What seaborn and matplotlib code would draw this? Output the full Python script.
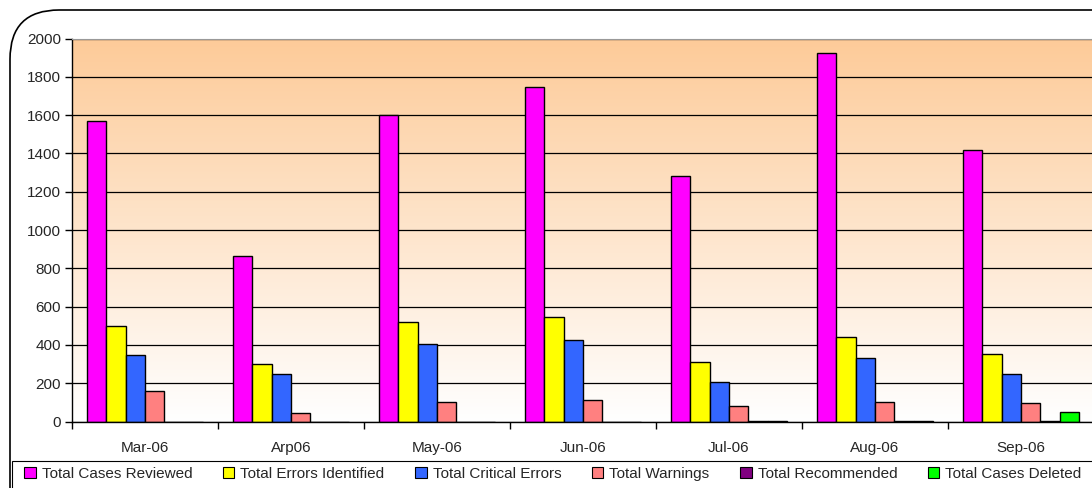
import numpy as np
import pandas as pd
import matplotlib
matplotlib.use("Agg")
import matplotlib.pyplot as plt
from matplotlib.patches import FancyBboxPatch, Rectangle
import seaborn as sns

# Dados
months = ['Mar-06', 'Arp06', 'May-06', 'Jun-06', 'Jul-06', 'Aug-06', 'Sep-06']
cases_reviewed = [1570, 865, 1600, 1745, 1282, 1925, 1420]
errors_identified = [497, 298, 517, 548, 310, 443, 352]
critical_errors = [345, 248, 407, 428, 208, 330, 248]
warnings = [157, 42, 103, 110, 80, 103, 97]
recommended = [0, 0, 0, 0, 4, 4, 5]
cases_deleted = [0, 0, 0, 0, 4, 4, 50]

series_names = ['Total Cases Reviewed', 'Total Errors Identified', 'Total Critical Errors',
                'Total Warnings', 'Total Recommended', 'Total Cases Deleted']
series_values = [cases_reviewed, errors_identified, critical_errors,
                 warnings, recommended, cases_deleted]
colors = ['#FF00FF', '#FFFF00', '#3366FF', '#FF8080', '#800080', '#00FF00']

rows = []
for name, vals in zip(series_names, series_values):
    for m, v in zip(months, vals):
        rows.append({'Month': m, 'Series': name, 'Value': v})
df = pd.DataFrame(rows)

sns.set_style('white')
plt.rcParams['font.family'] = ['Liberation Sans', 'DejaVu Sans']
FS = 11

W, H = 1092, 488
fig = plt.figure(figsize=(W / 100, H / 100), dpi=100)

# moldura arredondada externa
frame = FancyBboxPatch((10 / W, -0.2), 1.2, (H - 10) / H + 0.2,
                       boxstyle='round,pad=0,rounding_size=0.045',
                       transform=fig.transFigure, facecolor='none',
                       edgecolor='black', linewidth=1.2, clip_on=False,
                       mutation_aspect=W / H, zorder=-1)
fig.patches.append(frame)

ax = fig.add_axes([72 / W, 1 - 421.5 / H, 1022 / W, 383 / H])

sns.barplot(data=df, x='Month', y='Value', hue='Series', palette=colors,
            saturation=1, width=0.8, edgecolor='black', linewidth=1, ax=ax, zorder=2)

# fundo em degrade
grad = np.linspace(0, 1, 256).reshape(-1, 1)
top = np.array([253, 203, 153]) / 255
bottom = np.array([255, 255, 255]) / 255
img = bottom + (top - bottom) * grad
img = img[:, np.newaxis, :] * np.ones((1, 2, 1))
ax.imshow(img, extent=[-0.5, 6.5, 0, 2000], origin='lower', aspect='auto', zorder=0)

ax.set_xlim(-0.5, 6.5)
ax.set_ylim(0, 2000)
ax.set_yticks(range(0, 2001, 200))
ax.yaxis.grid(True, color='black', linewidth=0.9)
ax.set_axisbelow(True)
ax.set_xlabel('')
ax.set_ylabel('')

ax.set_xticks(range(len(months)))
ax.set_xticklabels(months)
ax.set_xticks(np.arange(-0.5, 7.0, 1.0), minor=True)
ax.tick_params(axis='x', which='major', length=0, pad=14, labelsize=FS)
ax.tick_params(axis='x', which='minor', length=5, width=1, color='black', direction='out')
ax.tick_params(axis='y', length=5, width=1, color='black', direction='out', labelsize=FS, pad=3)
ax.tick_params(axis='both', which='both', bottom=True, left=True)

for s in ['left', 'bottom']:
    ax.spines[s].set_color('black')
    ax.spines[s].set_linewidth(1)
ax.spines['top'].set_color('#999999')
ax.spines['right'].set_visible(False)

# legenda
handles, labels = ax.get_legend_handles_labels()
ax.get_legend().remove()
fig.patches.append(Rectangle((12 / W, -0.1), 1.2, 0.1 + (H - 461) / H,
                             transform=fig.transFigure, facecolor='white',
                             edgecolor='black', linewidth=0.8, clip_on=False))
leg = fig.legend(handles, labels, ncol=6, loc='center left',
                 bbox_to_anchor=(18 / W, 1 - 474 / H), frameon=False,
                 fontsize=FS, handlelength=0.75, handleheight=0.75,
                 handletextpad=0.4, columnspacing=2.0, borderaxespad=0)
for h in leg.legend_handles:
    h.set_edgecolor('black')
    h.set_linewidth(0.8)

fig.savefig('out.png', dpi=100)
